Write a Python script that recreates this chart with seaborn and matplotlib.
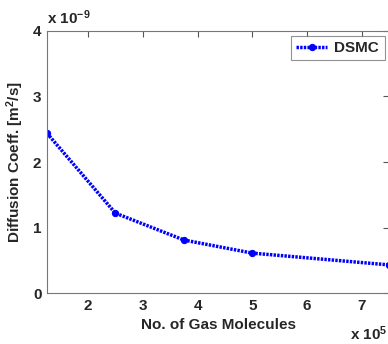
import matplotlib
matplotlib.use("Agg")
import matplotlib.pyplot as plt
import pandas as pd
import seaborn as sns

# Values (x in 1e5 molecules, y in 1e-9 m^2/s)
n_molecules_e5 = [1.25, 2.5, 3.75, 5.0, 7.5]
diff_coeff_e9 = [2.44, 1.22, 0.81, 0.61, 0.43]
x_ticks = [2, 3, 4, 5, 6, 7]
y_ticks = [0, 1, 2, 3, 4]

df = pd.DataFrame({"molecules": n_molecules_e5, "coeff": diff_coeff_e9, "method": "DSMC"})

sns.set_style("white")
plt.rcParams["font.family"] = ["Liberation Sans", "DejaVu Sans"]
plt.rcParams["font.weight"] = "bold"
plt.rcParams["mathtext.default"] = "regular"

FS = 11

fig = plt.figure(figsize=(3.88, 3.44), dpi=100)
ax = fig.add_axes([0.121, 0.148, 0.882, 0.762])

sns.lineplot(
    data=df,
    x="molecules",
    y="coeff",
    hue="method",
    palette={"DSMC": "#0000ff"},
    marker="o",
    markersize=4.5,
    markeredgecolor="#0000ff",
    linewidth=2.5,
    ax=ax,
)
for ln in ax.get_lines():
    ln.set_dashes((0.7, 0.35))

ax.set_xlim(1.25, 7.5)
ax.set_ylim(0, 4)
ax.set_xticks(x_ticks)
ax.set_yticks(y_ticks)
ax.tick_params(direction="in", length=4, top=True, right=True, labelsize=FS,
               color="#555555", pad=4)
for lbl in ax.get_xticklabels() + ax.get_yticklabels():
    lbl.set_fontweight("bold")
for sp in ax.spines.values():
    sp.set_color("#777777")
    sp.set_linewidth(0.8)

ax.set_xlabel("No. of Gas Molecules", fontsize=FS, fontweight="bold", labelpad=4)
ax.set_ylabel("Diffusion Coeff. [m$^2$/s]", fontsize=FS, fontweight="bold", labelpad=5)

ax.text(0.0, 1.015, "x 10$^{-9}$", transform=ax.transAxes, fontsize=FS,
        fontweight="bold", ha="left", va="bottom")
ax.text(0.885, -0.12, "x 10$^{5}$", transform=ax.transAxes, fontsize=FS,
        fontweight="bold", ha="left", va="top")

leg = ax.legend(loc="upper right", fontsize=FS, frameon=True, fancybox=False,
                borderaxespad=0.3, handlelength=2.0, handletextpad=0.5,
                borderpad=0.35)
leg.get_frame().set_edgecolor("#777777")
leg.get_frame().set_linewidth(0.8)
for t in leg.get_texts():
    t.set_fontweight("bold")
for h in leg.get_lines():
    h.set_dashes((0.7, 0.35))

fig.savefig("out.png", dpi=100)
